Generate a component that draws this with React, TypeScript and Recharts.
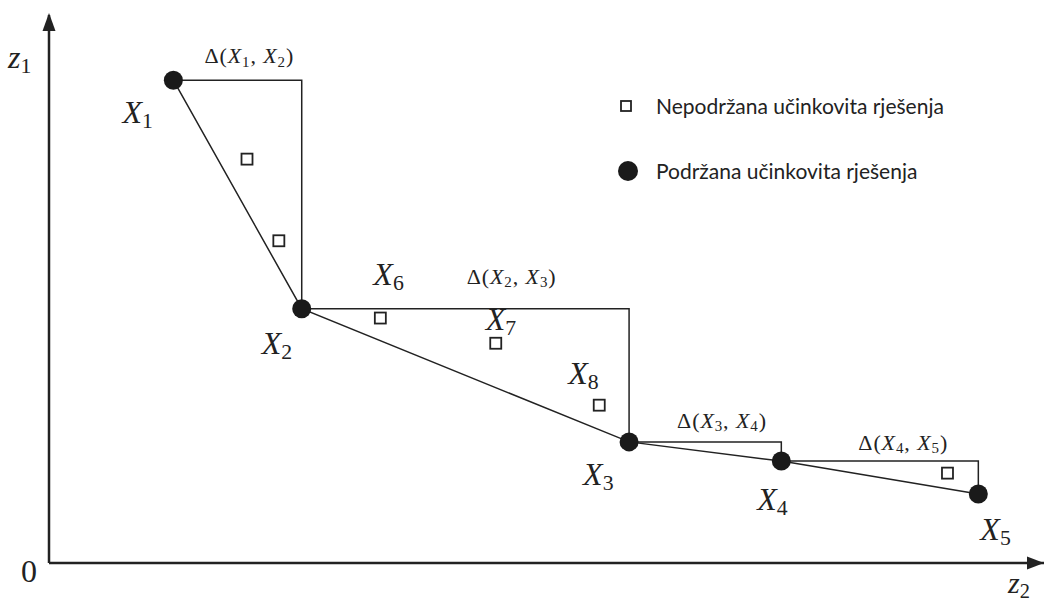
import React from 'react';
import { ComposedChart, Line, Scatter, XAxis, YAxis, ReferenceDot, ReferenceLine, Legend } from 'recharts';

// supported efficient solutions (on the hull)
const supportedNames = ['X1', 'X2', 'X3', 'X4', 'X5'];
const supportedZ2 = [12.5, 25.4, 58.3, 73.6, 93.4];
const supportedZ1 = [88.1, 46.4, 22.1, 18.6, 12.6];

// unsupported efficient solutions
const unsupportedNames = ['', '', 'X6', 'X7', 'X8', ''];
const unsupportedZ2 = [19.9, 23.1, 33.3, 44.9, 55.3, 90.3];
const unsupportedZ1 = [73.7, 58.8, 44.7, 40.1, 28.8, 16.4];

const legendNames = ['Nepodržana učinkovita rješenja', 'Podržana učinkovita rješenja'];
const axisNames = ['z1', 'z2'];
const originLabel = '0';

const supported = supportedNames.map((name, i) => ({ name, z2: supportedZ2[i], z1: supportedZ1[i] }));
const unsupported = unsupportedNames.map((name, i) => ({ name, z2: unsupportedZ2[i], z1: unsupportedZ1[i] }));
const deltas = supported.slice(0, -1).map((p, i) => ({ ...p, text: `Δ(${p.name}, ${supported[i + 1].name})` }));

const INK = '#222';
const SERIF = '"Liberation Serif", "DejaVu Serif", serif';

// label offsets in px: text start / baseline relative to the point
const labelOffsets: Record<string, [number, number]> = {
  X1: [-51, 43], X2: [-40, 45], X3: [-46, 43], X4: [-24, 49], X5: [2, 46],
  X6: [-7, -33], X7: [-10, -13], X8: [-31, -21],
};
const deltaOffsets: [number, number][] = [[31, -17], [165, -25], [48, -14], [77, -11]];

// letters italic, digits after a letter as subscript
function MathText({ x, y, text, size, anchor = 'start', spacing = 0 }: any) {
  const subSize = size * 0.68;
  const shift = size * 0.15;
  const parts: React.ReactNode[] = [];
  let down = false;
  let prevLetter = false;
  [...text].forEach((ch: string, i: number) => {
    const isLetter = /[A-Za-z]/.test(ch);
    const isDigit = /[0-9]/.test(ch);
    if (isDigit && (prevLetter || down)) {
      parts.push(<tspan key={i} fontSize={subSize} dy={down ? 0 : shift}>{ch}</tspan>);
      down = true;
    } else {
      parts.push(
        <tspan key={i} fontStyle={isLetter ? 'italic' : 'normal'} fontSize={size} dy={down ? -shift : 0}>{ch}</tspan>
      );
      down = false;
    }
    prevLetter = isLetter;
  });
  return (
    <text
      x={x}
      y={y}
      fill={INK}
      fontFamily={SERIF}
      textAnchor={anchor}
      letterSpacing={spacing}
      style={{ whiteSpace: 'pre' }}
    >
      {parts}
    </text>
  );
}

const CircleShape = (props: any) => {
  const { cx, cy, payload } = props;
  const off = labelOffsets[payload.name] || [0, 0];
  return (
    <g>
      <circle cx={cx} cy={cy} r={9.5} fill="#1a1a1a" />
      <MathText x={cx + off[0]} y={cy + off[1]} text={payload.name} size={32} />
    </g>
  );
};

const SquareShape = (props: any) => {
  const { cx, cy, payload } = props;
  const off = labelOffsets[payload.name];
  return (
    <g>
      <rect x={cx - 5.5} y={cy - 5.5} width={11} height={11} fill="#fff" stroke={INK} strokeWidth={1.8} />
      {payload.name && off ? <MathText x={cx + off[0]} y={cy + off[1]} text={payload.name} size={32} /> : null}
    </g>
  );
};

const renderLegend = () => (
  <div style={{ fontFamily: 'Lato, "Open Sans", sans-serif', fontSize: 21, color: INK }}>
    {legendNames.map((n, i) => (
      <div key={n} style={{ display: 'flex', alignItems: 'center', height: 65 }}>
        <svg width={24} height={24}>
          {i === 0 ? (
            <rect x={5} y={7} width={10} height={10} fill="#fff" stroke={INK} strokeWidth={1.8} />
          ) : (
            <circle cx={12} cy={12} r={10} fill="#1a1a1a" />
          )}
        </svg>
        <span style={{ marginLeft: 16, whiteSpace: 'nowrap' }}>{n}</span>
      </div>
    ))}
  </div>
);

export default function App() {
  return (
    <div style={{ position: 'absolute', left: 0, top: 0, background: '#fff' }}>
      <ComposedChart width={1044} height={605} margin={{ top: 15, right: 0, bottom: 42, left: 49 }}>
        <XAxis type="number" dataKey="z2" domain={[0, 100]} allowDataOverflow height={0} tick={false} tickLine={false} axisLine={false} />
        <YAxis type="number" dataKey="z1" domain={[0, 100]} allowDataOverflow width={0} tick={false} tickLine={false} axisLine={false} />
        <Legend
          layout="horizontal"
          verticalAlign="middle"
          align="center"
          content={renderLegend}
          wrapperStyle={{ left: 616, top: 73, width: 400 }}
        />
        <ReferenceLine segment={[{ x: 0, y: 0 }, { x: 100, y: 0 }]} stroke={INK} strokeWidth={2.5} ifOverflow="visible" />
        <ReferenceLine segment={[{ x: 0, y: 0 }, { x: 0, y: 100 }]} stroke={INK} strokeWidth={2.5} ifOverflow="visible" />
        <Line
          data={supported}
          dataKey="z1"
          type="stepAfter"
          stroke={INK}
          strokeWidth={1.5}
          dot={false}
          activeDot={false}
          legendType="none"
          isAnimationActive={false}
        />
        <Line
          data={supported}
          dataKey="z1"
          type="linear"
          stroke={INK}
          strokeWidth={1.5}
          dot={false}
          activeDot={false}
          legendType="none"
          isAnimationActive={false}
        />
        <Scatter name={legendNames[0]} data={unsupported} dataKey="z1" shape={SquareShape} isAnimationActive={false} />
        <Scatter name={legendNames[1]} data={supported} dataKey="z1" shape={CircleShape} isAnimationActive={false} />
        {deltas.map((d, i) => (
          <ReferenceDot
            key={d.text}
            x={d.z2}
            y={d.z1}
            r={0}
            shape={(p: any) => (
              <MathText
                x={p.cx + deltaOffsets[i][0]}
                y={p.cy + deltaOffsets[i][1]}
                text={d.text}
                size={22}
                spacing={0.9}
              />
            )}
          />
        ))}
        <ReferenceDot
          x={0}
          y={100}
          r={0}
          ifOverflow="visible"
          shape={(p: any) => (
            <g>
              <polygon points={`${p.cx},${p.cy - 2} ${p.cx - 6.5},${p.cy + 16} ${p.cx + 6.5},${p.cy + 16}`} fill={INK} />
              <MathText x={p.cx - 41} y={p.cy + 53} text={axisNames[0]} size={32} />
            </g>
          )}
        />
        <ReferenceDot
          x={100}
          y={0}
          r={0}
          ifOverflow="visible"
          shape={(p: any) => (
            <g>
              <polygon points={`${p.cx},${p.cy} ${p.cx - 17},${p.cy - 6.5} ${p.cx - 17},${p.cy + 6.5}`} fill={INK} />
              <MathText x={p.cx - 36} y={p.cy + 30} text={axisNames[1]} size={30} />
            </g>
          )}
        />
        <ReferenceDot
          x={0}
          y={0}
          r={0}
          ifOverflow="visible"
          shape={(p: any) => <MathText x={p.cx - 20} y={p.cy + 19} text={originLabel} size={32} anchor="middle" />}
        />
      </ComposedChart>
    </div>
  );
}
